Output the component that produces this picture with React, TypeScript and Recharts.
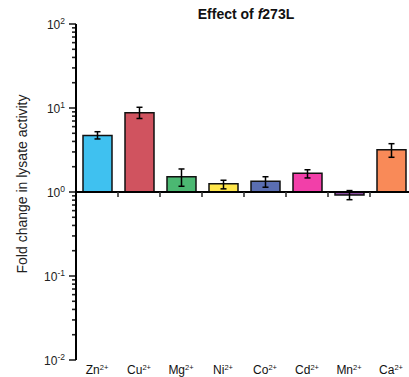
import React from 'react';
import { ComposedChart, Bar, Cell, XAxis, YAxis, ErrorBar, ReferenceLine } from 'recharts';

const metals = ['Zn', 'Cu', 'Mg', 'Ni', 'Co', 'Cd', 'Mn', 'Ca'];
const charges = ['2+', '2+', '2+', '2+', '2+', '2+', '2+', '2+'];
const foldChange = [4.7, 8.8, 1.52, 1.25, 1.34, 1.67, 0.92, 3.19];
const errorLow = [4.28, 7.5, 1.17, 1.09, 1.14, 1.47, 0.81, 2.59];
const errorHigh = [5.22, 10.2, 1.88, 1.38, 1.52, 1.84, 1.04, 3.76];
const barColors = ['#3FC1F0', '#D0535F', '#4BB872', '#FFE64B', '#5A6EB2', '#F23FA9', '#8C4FA3', '#F98A58'];
const majorTicks = [0.01, 0.1, 1, 10, 100];
const minorMultipliers = [2, 3, 4, 5, 6, 7, 8, 9];

const minorTicks: number[] = [];
majorTicks.forEach((m, i) => {
  if (i < majorTicks.length - 1) minorMultipliers.forEach((k) => minorTicks.push(Number((m * k).toPrecision(6))));
});

const data = metals.map((m, i) => ({
  metal: m,
  charge: charges[i],
  range: [1, foldChange[i]],
  err: [foldChange[i] - errorLow[i], errorHigh[i] - foldChange[i]],
}));

const FONT = '"Liberation Sans", Arial, sans-serif';

const YTick = (props: any) => {
  const { x, y, payload } = props;
  const v = payload.value;
  const exp = Math.round(Math.log10(v));
  return (
    <text x={x - 11} y={y + 4.5} textAnchor="end" fontFamily={FONT} fontSize={12} fill="#222">
      10
      <tspan dy={-5} fontSize={8.5}>{String(exp)}</tspan>
    </text>
  );
};

const XTick = (props: any) => {
  const { x, y, payload, index } = props;
  return (
    <text x={x} y={y + 14} textAnchor="middle" fontFamily={FONT} fontSize={12} fill="#111">
      {payload.value}
      <tspan dy={-4} fontSize={7.5}>{charges[index]}</tspan>
    </text>
  );
};

const makeTickShape = (len: number) => (props: any) => {
  const { x1, y1 } = props;
  return <line x1={x1 - len} x2={x1} y1={y1} y2={y1} stroke="#222" strokeWidth={1.6} />;
};
const majorTickShape = makeTickShape(7);
const minorTickShape = makeTickShape(4);

const BaseLine = (props: any) => {
  const { x1, x2, y1 } = props;
  const n = metals.length;
  const ticks = [];
  for (let i = 1; i < n; i++) {
    const tx = x1 + (i * (x2 - x1)) / n;
    ticks.push(<line key={i} x1={tx} x2={tx} y1={y1} y2={y1 + 5} stroke="#333" strokeWidth={1.6} />);
  }
  return (
    <g>
      <line x1={x1 - 1} x2={x2} y1={y1} y2={y1} stroke="#000" strokeWidth={2} />
      {ticks}
    </g>
  );
};

export default function App() {
  return (
    <div style={{ position: 'absolute', left: 0, top: 0, width: 409, height: 377, overflow: 'hidden', background: '#fff' }}>
      <div
        style={{
          position: 'absolute',
          left: 246,
          top: 6,
          transform: 'translateX(-50%)',
          fontFamily: FONT,
          fontSize: 14,
          fontWeight: 'bold',
          whiteSpace: 'nowrap',
          lineHeight: '17px',
          color: '#111',
        }}
      >
        Effect of <i>f</i>273L
      </div>
      <div
        style={{
          position: 'absolute',
          left: 21.5,
          top: 184,
          transform: 'translate(-50%, -50%) rotate(-90deg)',
          fontFamily: FONT,
          fontSize: 14,
          whiteSpace: 'nowrap',
          lineHeight: '16px',
          color: '#222',
        }}
      >
        Fold change in lysate activity
      </div>
      <ComposedChart width={412} height={377} data={data} margin={{ top: 24, right: 0, bottom: 0, left: 0 }}>
        <XAxis
          dataKey="metal"
          axisLine={false}
          tickLine={false}
          tickSize={0}
          tickMargin={0}
          height={17}
          interval={0}
          tick={<XTick />}
        />
        <YAxis
          scale="log"
          domain={[0.01, 100]}
          allowDataOverflow
          type="number"
          ticks={majorTicks}
          interval={0}
          width={76}
          tickSize={0}
          tickMargin={0}
          tickLine={false}
          axisLine={{ stroke: '#000', strokeWidth: 2 }}
          tick={<YTick />}
        />
        {majorTicks.map((v) => (
          <ReferenceLine key={'M' + v} y={v} ifOverflow="visible" shape={majorTickShape} />
        ))}
        {minorTicks.map((v) => (
          <ReferenceLine key={'m' + v} y={v} ifOverflow="visible" shape={minorTickShape} />
        ))}
        <Bar dataKey="range" barSize={29} stroke="#111" strokeWidth={1.5} isAnimationActive={false}>
          {data.map((d, i) => (
            <Cell key={d.metal} fill={barColors[i]} />
          ))}
          <ErrorBar dataKey="err" width={3} stroke="#000" strokeWidth={1.5} />
        </Bar>
        <ReferenceLine y={1} shape={<BaseLine />} />
      </ComposedChart>
    </div>
  );
}
